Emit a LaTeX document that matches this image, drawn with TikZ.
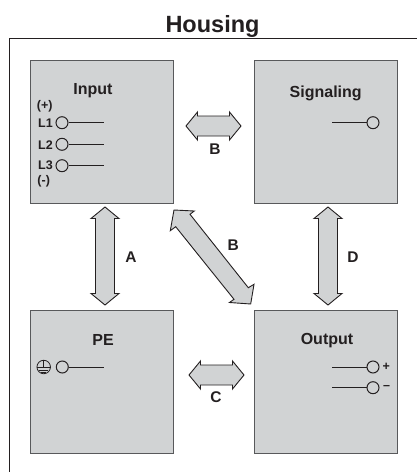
\documentclass[tikz,border=0pt]{standalone}
\usepackage{fontspec}
\setmainfont{Liberation Sans}
\usetikzlibrary{calc}
\definecolor{boxfill}{HTML}{D1D3D4}
\definecolor{ink}{HTML}{231F20}
\definecolor{boxline}{HTML}{58595B}
\tikzset{
  unit/.style={draw=boxline,fill=boxfill,line width=1pt,minimum width=143pt,minimum height=143pt,inner sep=0pt,anchor=north west},
  title/.style={font=\fontsize{16}{18}\selectfont\bfseries,text=ink,inner sep=0pt,anchor=base},
  small/.style={font=\fontsize{12.5}{14}\selectfont\bfseries,text=ink,inner sep=0pt},
  tag/.style={font=\fontsize{15.5}{17}\selectfont\bfseries,text=ink,inner sep=0pt},
  term/.style={circle,draw=ink,fill=boxfill,line width=1pt,minimum size=12pt,inner sep=0pt},
  wire/.style={draw=ink,line width=1pt},
  blockarrow/.style={draw=ink,fill=boxfill,line width=0.9pt,line join=miter},
  frame/.style={draw=ink,line width=1pt}
}
% tips: #1 and #2; half shaft #3; half head #4; head length #5
\newcommand{\dblarrow}[5]{%
  \draw[blockarrow]
    let \p1=($(#2)-(#1)$), \n1={veclen(\x1,\y1)}, \n2={\x1/\n1}, \n3={\y1/\n1} in
    (#1)
    -- ($(#1)+(\n2*#5,\n3*#5)+(-\n3*#4,\n2*#4)$)
    -- ($(#1)+(\n2*#5,\n3*#5)+(-\n3*#3,\n2*#3)$)
    -- ($(#2)-(\n2*#5,\n3*#5)+(-\n3*#3,\n2*#3)$)
    -- ($(#2)-(\n2*#5,\n3*#5)+(-\n3*#4,\n2*#4)$)
    -- (#2)
    -- ($(#2)-(\n2*#5,\n3*#5)+(\n3*#4,-\n2*#4)$)
    -- ($(#2)-(\n2*#5,\n3*#5)+(\n3*#3,-\n2*#3)$)
    -- ($(#1)+(\n2*#5,\n3*#5)+(\n3*#3,-\n2*#3)$)
    -- ($(#1)+(\n2*#5,\n3*#5)+(\n3*#4,-\n2*#4)$)
    -- cycle;}
\begin{document}
\begin{tikzpicture}[x=1pt,y=-1pt]
\useasboundingbox (0,0) rectangle (417,472);
% housing
\draw[frame] (9.5,472) -- (9.5,38) -- (417,38);
\node[font=\fontsize{23.5}{26}\selectfont\bfseries,text=ink,inner sep=0pt,anchor=base] (housing) at (212.5,32) {Housing};
% units
\node[unit] (input) at (29.5,60) {};
\node[unit] (signaling) at (253.5,60) {};
\node[unit] (pe) at (30,310) {};
\node[unit] (output) at (253.5,310) {};
\node[title] (inputT) at (93,94.3) {Input};
\node[title] (signalT) at (325.7,97) {Signaling};
\node[title] (peT) at (103,345) {PE};
\node[title] (outputT) at (327,344.3) {Output};
% input terminals
\node[small] (plus) at (44.7,106.7) {(+)};
\node[small,anchor=base west] (l1) at (38,127) {L1};
\node[small,anchor=base west] (l2) at (38,149) {L2};
\node[small,anchor=base west] (l3) at (38,169.5) {L3};
\node[small] (minus) at (43.7,181.7) {(-)};
\node[term] (t1) at (62,122.7) {};
\node[term] (t2) at (62,144.3) {};
\node[term] (t3) at (62,165.7) {};
\coordinate (t1e) at (103.7,122.7);
\coordinate (t2e) at (103.7,144.3);
\coordinate (t3e) at (103.7,165.7);
\draw[wire] (t1) -- (t1e);
\draw[wire] (t2) -- (t2e);
\draw[wire] (t3) -- (t3e);
% signaling terminal
\node[term] (ts) at (373,122.7) {};
\coordinate (tse) at (332,122.7);
\draw[wire] (ts) -- (tse);
% PE terminal
\node[term] (tp) at (62.3,367) {};
\coordinate (tpe) at (104,367);
\draw[wire] (tp) -- (tpe);
\node[circle,draw=ink,line width=0.8pt,minimum size=13.5pt,inner sep=0pt] (earth) at (43.7,367) {};
\draw[ink,line width=0.8pt] (earth.north) -- (earth.center);
\draw[ink,line width=0.8pt] (earth.west) -- (earth.east);
\draw[ink,line width=0.8pt] (39,370) -- (48.4,370);
\draw[ink,line width=0.8pt] (41,372.7) -- (46.4,372.7);
% output terminals
\node[term] (to1) at (373,367) {};
\node[term] (to2) at (373,387.7) {};
\coordinate (to1e) at (332,367);
\coordinate (to2e) at (332,387.7);
\draw[wire] (to1) -- (to1e);
\draw[wire] (to2) -- (to2e);
\node[small] (op) at (386.3,367) {+};
\node[small] (om) at (386.5,387.3) {–};
% block arrows
\coordinate (aT) at (105,207);  \coordinate (aB) at (105,305);
\coordinate (dT) at (328,207);  \coordinate (dB) at (328,305);
\coordinate (bL) at (186,126);  \coordinate (bR) at (241,126);
\coordinate (cL) at (189,375);  \coordinate (cR) at (244,375);
\dblarrow{aT}{aB}{9.5}{14}{11.5}
\dblarrow{dT}{dB}{9.5}{14}{11.5}
\dblarrow{bL}{bR}{10}{14}{11.5}
\dblarrow{cL}{cR}{10}{14}{11.5}
\coordinate (diagA) at (174,210);
\coordinate (diagB) at (250.7,304);
\draw[blockarrow] (diagA) -- (194.3,211) -- (190,214.3) -- (248.3,287.7) -- (254,284.3)
  -- (diagB) -- (229.5,302.5) -- (234,299.3) -- (175.7,226.7) -- (170.3,230.7) -- cycle;
% tags
\node[tag] (tagA) at (131,257) {A};
\node[tag] (tagB1) at (215,149) {B};
\node[tag] (tagB2) at (233.3,245) {B};
\node[tag] (tagC) at (216,396.7) {C};
\node[tag] (tagD) at (353,256.7) {D};
\end{tikzpicture}
\end{document}
